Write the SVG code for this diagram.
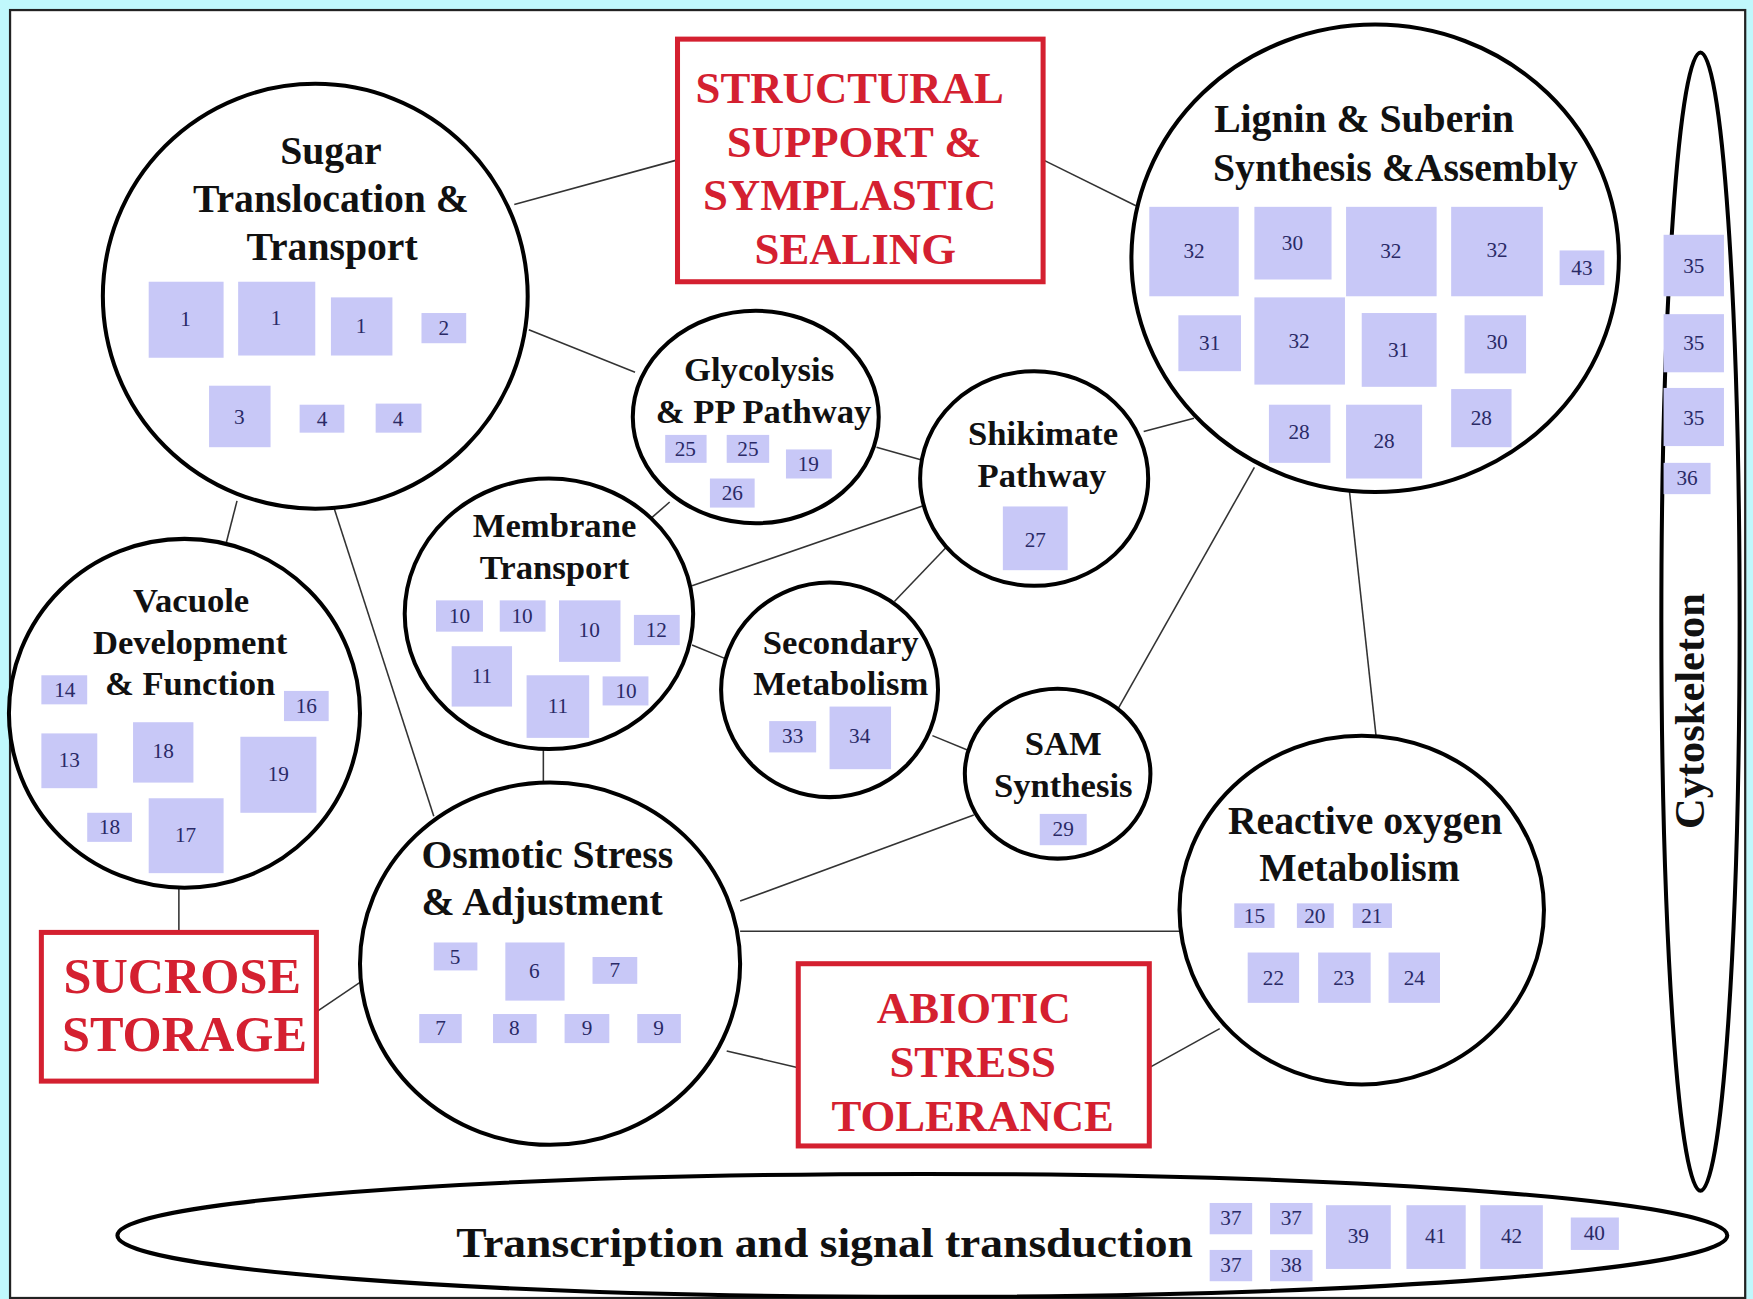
<svg xmlns="http://www.w3.org/2000/svg" width="1753" height="1299" viewBox="0 0 1753 1299">
<style>
.frame{fill:#ffffff;stroke:#222;stroke-width:2}
.c{fill:#fff;stroke:#000;stroke-width:3.6}
.line{stroke:#333;stroke-width:1.4;fill:none}
.rbox{fill:#fff;stroke:#d42030;stroke-width:4.5}
.b{fill:#c8c8f7}
.t{font-family:"Liberation Serif","Times New Roman",serif;font-weight:bold;fill:#111;text-anchor:middle}
.L{font-size:35.5px}
.M{font-size:31px}
.red{font-family:"Liberation Serif","Times New Roman",serif;font-weight:bold;fill:#d42030;text-anchor:middle;font-size:40px}
.n{font-family:"Liberation Serif","Times New Roman",serif;font-size:19px;fill:#2a2a66;text-anchor:middle}
</style>
<rect x="0" y="0" width="1753" height="1299" fill="#c0f8fc"/>
<g transform="scale(1.118)">
<rect class="frame" x="9" y="9" width="1552" height="1152"/>

<g id="connectors">
<line class="line" x1="460" y1="183" x2="606" y2="143"/>
<line class="line" x1="933" y1="143" x2="1016" y2="184"/>
<line class="line" x1="473" y1="295" x2="568" y2="333"/>
<line class="line" x1="784" y1="400" x2="826" y2="412"/>
<line class="line" x1="1023" y1="386" x2="1068" y2="374"/>
<line class="line" x1="599" y1="449" x2="583" y2="463"/>
<line class="line" x1="619" y1="524" x2="827" y2="452"/>
<line class="line" x1="846" y1="490" x2="800" y2="538"/>
<line class="line" x1="619" y1="577" x2="651" y2="590"/>
<line class="line" x1="834" y1="658" x2="868" y2="672"/>
<line class="line" x1="1000" y1="634" x2="1122" y2="418"/>
<line class="line" x1="1206" y1="430" x2="1231" y2="660"/>
<line class="line" x1="662" y1="806" x2="871" y2="729"/>
<line class="line" x1="662" y1="833" x2="1057" y2="833"/>
<line class="line" x1="650" y1="940" x2="714" y2="955"/>
<line class="line" x1="1028" y1="955" x2="1091" y2="920"/>
<line class="line" x1="283" y1="905" x2="323" y2="878"/>
<line class="line" x1="160" y1="795" x2="160" y2="834"/>
<line class="line" x1="212" y1="448" x2="202" y2="487"/>
<line class="line" x1="299" y1="455" x2="388" y2="730"/>
<line class="line" x1="486" y1="670" x2="486" y2="701"/>
</g>

<g id="sugar">
<ellipse class="c" cx="282" cy="265" rx="190" ry="190"/>
<text class="t L" x="296" y="147">Sugar</text>
<text class="t L" x="296" y="190">Translocation &amp;</text>
<text class="t L" x="297" y="233">Transport</text>
<rect class="b" x="133" y="252" width="67" height="68"/><text class="n" x="166" y="292">1</text>
<rect class="b" x="213" y="252" width="69" height="66"/><text class="n" x="247" y="291">1</text>
<rect class="b" x="296" y="266" width="55" height="52"/><text class="n" x="323" y="298">1</text>
<rect class="b" x="377" y="280" width="40" height="27"/><text class="n" x="397" y="300">2</text>
<rect class="b" x="187" y="345" width="55" height="55"/><text class="n" x="214" y="379">3</text>
<rect class="b" x="268" y="362" width="40" height="25"/><text class="n" x="288" y="381">4</text>
<rect class="b" x="336" y="361" width="41" height="26"/><text class="n" x="356" y="381">4</text>
</g>

<g id="structural">
<rect class="rbox" x="606" y="35" width="327" height="217"/>
<text class="red" x="760" y="92">STRUCTURAL</text>
<text class="red" x="764" y="140">SUPPORT &amp;</text>
<text class="red" x="760" y="188">SYMPLASTIC</text>
<text class="red" x="765" y="236">SEALING</text>
</g>

<g id="lignin">
<ellipse class="c" cx="1230" cy="231" rx="218" ry="209"/>
<text class="t L" x="1086" y="118" style="text-anchor:start">Lignin &amp; Suberin</text>
<text class="t L" x="1085" y="162" style="text-anchor:start">Synthesis &amp;Assembly</text>
<rect class="b" x="1028" y="185" width="80" height="80"/><text class="n" x="1068" y="231">32</text>
<rect class="b" x="1122" y="185" width="69" height="65"/><text class="n" x="1156" y="224">30</text>
<rect class="b" x="1204" y="185" width="81" height="80"/><text class="n" x="1244" y="231">32</text>
<rect class="b" x="1298" y="185" width="82" height="80"/><text class="n" x="1339" y="230">32</text>
<rect class="b" x="1395" y="224" width="40" height="31"/><text class="n" x="1415" y="246">43</text>
<rect class="b" x="1054" y="282" width="56" height="50"/><text class="n" x="1082" y="313">31</text>
<rect class="b" x="1122" y="266" width="81" height="78"/><text class="n" x="1162" y="311">32</text>
<rect class="b" x="1218" y="280" width="67" height="66"/><text class="n" x="1251" y="319">31</text>
<rect class="b" x="1310" y="282" width="55" height="52"/><text class="n" x="1339" y="312">30</text>
<rect class="b" x="1135" y="362" width="55" height="52"/><text class="n" x="1162" y="393">28</text>
<rect class="b" x="1204" y="362" width="68" height="66"/><text class="n" x="1238" y="401">28</text>
<rect class="b" x="1298" y="348" width="54" height="52"/><text class="n" x="1325" y="380">28</text>
</g>

<g id="cytoskeleton">
<ellipse class="c" cx="1521" cy="556" rx="35" ry="509"/>
<rect class="b" x="1488" y="210" width="54" height="55"/><text class="n" x="1515" y="244">35</text>
<rect class="b" x="1488" y="281" width="54" height="52"/><text class="n" x="1515" y="313">35</text>
<rect class="b" x="1488" y="347" width="54" height="52"/><text class="n" x="1515" y="380">35</text>
<rect class="b" x="1488" y="414" width="42" height="28"/><text class="n" x="1509" y="434">36</text>
<text class="t" style="font-size:38px" transform="translate(1524,636) rotate(-90)">Cytoskeleton</text>
</g>

<g id="glycolysis">
<ellipse class="c" cx="676" cy="373" rx="110" ry="95"/>
<text class="t M" x="679" y="341">Glycolysis</text>
<text class="t M" x="683" y="378">&amp; PP Pathway</text>
<rect class="b" x="595" y="389" width="37" height="25"/><text class="n" x="613" y="408">25</text>
<rect class="b" x="650" y="389" width="38" height="25"/><text class="n" x="669" y="408">25</text>
<rect class="b" x="703" y="402" width="41" height="26"/><text class="n" x="723" y="421">19</text>
<rect class="b" x="635" y="428" width="40" height="26"/><text class="n" x="655" y="447">26</text>
</g>

<g id="shikimate">
<ellipse class="c" cx="925" cy="428" rx="102" ry="96"/>
<text class="t M" x="933" y="398">Shikimate</text>
<text class="t M" x="932" y="436">Pathway</text>
<rect class="b" x="897" y="453" width="58" height="57"/><text class="n" x="926" y="489">27</text>
</g>

<g id="membrane">
<ellipse class="c" cx="491" cy="549" rx="129" ry="121"/>
<text class="t M" x="496" y="480">Membrane</text>
<text class="t M" x="496" y="518">Transport</text>
<rect class="b" x="390" y="537" width="42" height="28"/><text class="n" x="411" y="557">10</text>
<rect class="b" x="447" y="537" width="41" height="28"/><text class="n" x="467" y="557">10</text>
<rect class="b" x="500" y="537" width="55" height="55"/><text class="n" x="527" y="570">10</text>
<rect class="b" x="567" y="550" width="41" height="27"/><text class="n" x="587" y="570">12</text>
<rect class="b" x="404" y="578" width="54" height="54"/><text class="n" x="431" y="611">11</text>
<rect class="b" x="471" y="604" width="56" height="56"/><text class="n" x="499" y="638">11</text>
<rect class="b" x="539" y="605" width="41" height="26"/><text class="n" x="560" y="624">10</text>
</g>

<g id="secondary">
<ellipse class="c" cx="742" cy="617" rx="97" ry="96"/>
<text class="t M" x="752" y="585">Secondary</text>
<text class="t M" x="752" y="622">Metabolism</text>
<rect class="b" x="688" y="645" width="42" height="28"/><text class="n" x="709" y="665">33</text>
<rect class="b" x="742" y="632" width="55" height="56"/><text class="n" x="769" y="665">34</text>
</g>

<g id="sam">
<ellipse class="c" cx="946" cy="692" rx="83" ry="76"/>
<text class="t M" x="951" y="675">SAM</text>
<text class="t M" x="951" y="713">Synthesis</text>
<rect class="b" x="930" y="728" width="42" height="28"/><text class="n" x="951" y="748">29</text>
</g>

<g id="vacuole">
<ellipse class="c" cx="165" cy="638" rx="157" ry="156"/>
<text class="t M" x="171" y="547">Vacuole</text>
<text class="t M" x="170" y="585">Development</text>
<text class="t M" x="170" y="622">&amp; Function</text>
<rect class="b" x="37" y="604" width="41" height="26"/><text class="n" x="58" y="623">14</text>
<rect class="b" x="254" y="618" width="40" height="27"/><text class="n" x="274" y="638">16</text>
<rect class="b" x="37" y="656" width="50" height="49"/><text class="n" x="62" y="686">13</text>
<rect class="b" x="119" y="646" width="54" height="54"/><text class="n" x="146" y="678">18</text>
<rect class="b" x="215" y="659" width="68" height="68"/><text class="n" x="249" y="699">19</text>
<rect class="b" x="78" y="727" width="40" height="26"/><text class="n" x="98" y="746">18</text>
<rect class="b" x="133" y="714" width="67" height="67"/><text class="n" x="166" y="753">17</text>
</g>

<g id="sucrose">
<rect class="rbox" x="37" y="834" width="246" height="133"/>
<text class="red" x="163" y="888" style="font-size:45px">SUCROSE</text>
<text class="red" x="165" y="940" style="font-size:45px">STORAGE</text>
</g>

<g id="osmotic">
<ellipse class="c" cx="492" cy="862" rx="170" ry="162"/>
<text class="t L" x="377" y="776" style="text-anchor:start">Osmotic Stress</text>
<text class="t L" x="377" y="818" style="text-anchor:start">&amp; Adjustment</text>
<rect class="b" x="388" y="843" width="39" height="25"/><text class="n" x="407" y="862">5</text>
<rect class="b" x="452" y="843" width="53" height="52"/><text class="n" x="478" y="875">6</text>
<rect class="b" x="530" y="856" width="40" height="24"/><text class="n" x="550" y="874">7</text>
<rect class="b" x="375" y="907" width="38" height="26"/><text class="n" x="394" y="926">7</text>
<rect class="b" x="441" y="907" width="39" height="26"/><text class="n" x="460" y="926">8</text>
<rect class="b" x="505" y="907" width="40" height="26"/><text class="n" x="525" y="926">9</text>
<rect class="b" x="570" y="907" width="39" height="26"/><text class="n" x="589" y="926">9</text>
</g>

<g id="abiotic">
<rect class="rbox" x="714" y="862" width="314" height="163"/>
<text class="red" x="871" y="915">ABIOTIC</text>
<text class="red" x="870" y="963">STRESS</text>
<text class="red" x="870" y="1012">TOLERANCE</text>
</g>

<g id="reactive">
<ellipse class="c" cx="1218" cy="814" rx="163" ry="156"/>
<text class="t L" x="1221" y="746">Reactive oxygen</text>
<text class="t L" x="1216" y="788">Metabolism</text>
<rect class="b" x="1104" y="808" width="36" height="22"/><text class="n" x="1122" y="826">15</text>
<rect class="b" x="1160" y="808" width="33" height="22"/><text class="n" x="1176" y="826">20</text>
<rect class="b" x="1210" y="808" width="35" height="22"/><text class="n" x="1227" y="826">21</text>
<rect class="b" x="1116" y="852" width="46" height="45"/><text class="n" x="1139" y="881">22</text>
<rect class="b" x="1179" y="852" width="47" height="45"/><text class="n" x="1202" y="881">23</text>
<rect class="b" x="1242" y="852" width="46" height="45"/><text class="n" x="1265" y="881">24</text>
</g>

<g id="transcription">
<ellipse class="c" cx="825" cy="1105" rx="720" ry="55"/>
<text class="t" style="font-size:38px;text-anchor:start" x="408" y="1124" textLength="659" lengthAdjust="spacingAndGlyphs">Transcription and signal transduction</text>
<rect class="b" x="1082" y="1076" width="38" height="28"/><text class="n" x="1101" y="1096">37</text>
<rect class="b" x="1136" y="1076" width="38" height="28"/><text class="n" x="1155" y="1096">37</text>
<rect class="b" x="1082" y="1118" width="38" height="28"/><text class="n" x="1101" y="1138">37</text>
<rect class="b" x="1136" y="1118" width="38" height="28"/><text class="n" x="1155" y="1138">38</text>
<rect class="b" x="1186" y="1078" width="58" height="57"/><text class="n" x="1215" y="1112">39</text>
<rect class="b" x="1258" y="1078" width="53" height="57"/><text class="n" x="1284" y="1112">41</text>
<rect class="b" x="1324" y="1078" width="56" height="57"/><text class="n" x="1352" y="1112">42</text>
<rect class="b" x="1405" y="1089" width="43" height="29"/><text class="n" x="1426" y="1109">40</text>
</g>
</g>
</svg>
